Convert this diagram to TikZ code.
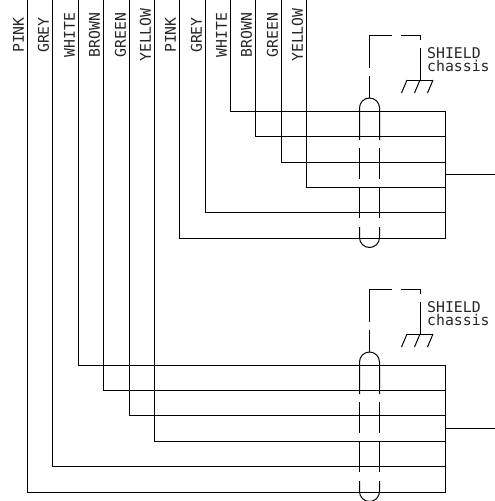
\documentclass[tikz,border=0pt]{standalone}
\usepackage{fontspec}
\setmainfont{DejaVu Sans Mono}
\tikzset{
  wire/.style={line width=1pt,line join=miter},
  lab/.style={font=\fontsize{14.8}{15}\selectfont,inner sep=0pt,text=black!85},
  vlab/.style={lab,rotate=90,anchor=center},
}
\begin{document}
\begin{tikzpicture}[x=1pt,y=-1pt]
\useasboundingbox (0,0) rectangle (495,501);
% upper and lower wire labels
\foreach \n/\t/\x in {a/PINK/27,b/GREY/52,c/WHITE/78,d/BROWN/103,e/GREEN/129,f/YELLOW/154,g/PINK/179,h/GREY/205,i/WHITE/230,j/BROWN/255,k/GREEN/281,l/YELLOW/306}
  \node[vlab] (lab\n) at (\x-8.5,35) {\t};
% bus bars with their wires
\foreach \x/\y in {230/111,255/136,281/162,306/187,205/212,179/238,78/365,103/390,129/415,154/441,52/466,27/492}
  \draw[wire] (\x,0) -- (\x,\y) -- (445.5,\y);
\draw[wire] (445.5,111) -- (445.5,238);
\draw[wire] (445.5,365) -- (445.5,492);
\coordinate (busA) at (445.5,174);
\coordinate (outA) at (495,174);
\coordinate (busB) at (445.5,428);
\coordinate (outB) at (495,428);
\draw[wire] (busA) -- (outA);
\draw[wire] (busB) -- (outB);
% shields
\foreach \o in {0,254}{
  \begin{scope}[yshift=-\o pt]
  \draw[wire] (359.5,140) -- (359.5,108) arc[start angle=180,end angle=0,x radius=10,y radius=-10] -- (379.5,140);
  \draw[wire] (359.5,148) -- (359.5,179) (379.5,148) -- (379.5,179);
  \draw[wire] (359.5,187) -- (359.5,218) (379.5,187) -- (379.5,218);
  \draw[wire] (359.5,227) -- (359.5,237.5) arc[start angle=180,end angle=360,x radius=10,y radius=-10] -- (379.5,227);
  % drain to chassis
  \draw[wire] (369.5,98) -- (369.5,76);
  \draw[wire] (369.5,68) -- (369.5,35) -- (392,35);
  \draw[wire] (401,35) -- (420.5,35) -- (420.5,40);
  \draw[wire] (420.5,48) -- (420.5,80);
  \draw[wire] (407,80) -- (433,80);
  \draw[wire] (407,80) -- (401.5,93) (420,80) -- (414.5,93) (433,80) -- (427.5,93);
  \end{scope}
}
\node[lab,anchor=base west] (shA) at (427,58.5) {SHIELD};
\node[lab,anchor=base west] (chA) at (427,71.5) {chassis};
\node[lab,anchor=base west] (shB) at (427,312) {SHIELD};
\node[lab,anchor=base west] (chB) at (427,325) {chassis};
\end{tikzpicture}
\end{document}
